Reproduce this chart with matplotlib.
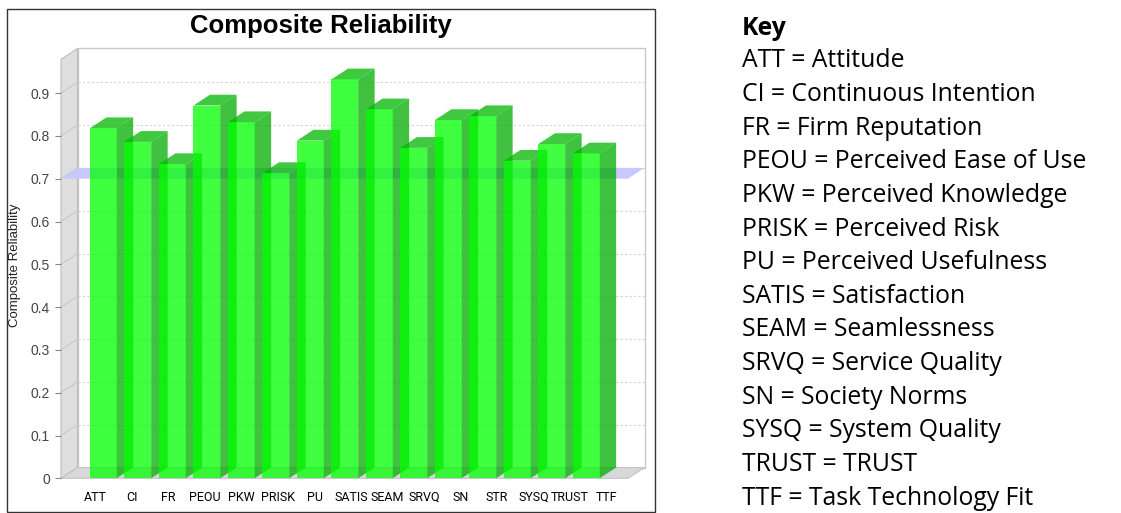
import numpy as np
import matplotlib
matplotlib.use('Agg')
import matplotlib.pyplot as plt
from matplotlib.patches import Polygon, Rectangle

codes = ['ATT', 'CI', 'FR', 'PEOU', 'PKW', 'PRISK', 'PU', 'SATIS', 'SEAM',
         'SRVQ', 'SN', 'STR', 'SYSQ', 'TRUST', 'TTF']
values = [0.818, 0.786, 0.734, 0.871, 0.832, 0.713, 0.789, 0.932, 0.862,
          0.772, 0.837, 0.846, 0.742, 0.781, 0.759]
key_codes = ['ATT', 'CI', 'FR', 'PEOU', 'PKW', 'PRISK', 'PU', 'SATIS', 'SEAM',
             'SRVQ', 'SN', 'SYSQ', 'TRUST', 'TTF']
key_names = ['Attitude', 'Continuous Intention', 'Firm Reputation',
             'Perceived Ease of Use', 'Perceived Knowledge', 'Perceived Risk',
             'Perceived Usefulness', 'Satisfaction', 'Seamlessness',
             'Service Quality', 'Society Norms', 'System Quality', 'TRUST',
             'Task Technology Fit']
threshold = 0.7
yticks = [0, 0.1, 0.2, 0.3, 0.4, 0.5, 0.6, 0.7, 0.8, 0.9]

W, H = 1121, 513
def fx(px):
    return px / W
def fy(py):
    return 1 - py / H

fig = plt.figure(figsize=(W / 100, H / 100), dpi=100)

# front plane of the 3d plot
left, right, bottom, top = 61, 628, 478.3, 59.3
ax = fig.add_axes([fx(left), fy(bottom), fx(right) - fx(left), (bottom - top) / H])
px_per_x = 34.5
px_per_y = 428.0
x0 = -(103.3 - left) / px_per_x
x1 = x0 + (right - left) / px_per_x
ymax = (bottom - top) / px_per_y
ax.set_xlim(x0, x1)
ax.set_ylim(0, ymax)
dx = 16.5 / px_per_x
dy = 10.8 / px_per_y
w = 26.7 / px_per_x

for s in ax.spines.values():
    s.set_visible(False)
ax.patch.set_visible(False)

# back wall
ax.add_patch(Rectangle((x0 + dx, dy), x1 - x0, ymax, fc='white', ec='#c8c8c8',
                       lw=1, clip_on=False, zorder=0))
for t in yticks[1:]:
    ax.plot([x0 + dx, x1 + dx], [t + dy, t + dy], color='#d4d4d4', lw=0.8,
            ls=(0, (2, 2)), clip_on=False, zorder=0.5)
# left wall and floor
ax.add_patch(Polygon([(x0, 0), (x0 + dx, dy), (x0 + dx, ymax + dy), (x0, ymax)],
                     closed=True, fc='#dedede', ec='#bdbdbd', lw=0.8,
                     clip_on=False, zorder=0.6))
ax.add_patch(Polygon([(x0, 0), (x1, 0), (x1 + dx, dy), (x0 + dx, dy)],
                     closed=True, fc='#d8d8d8', ec='#c4c4c4', lw=0.8,
                     clip_on=False, zorder=0.6))
for t in yticks[1:]:
    ax.plot([x0, x0 + dx], [t, t + dy], color='#c4c4c4', lw=0.7,
            clip_on=False, zorder=0.7)

# threshold plane
ax.add_patch(Polygon([(x0, threshold), (x1, threshold), (x1 + dx, threshold + dy),
                      (x0 + dx, threshold + dy)], closed=True, fc='#c8c8ff',
                     ec='none', clip_on=False, zorder=0.8))

# bars
front = (0, 1, 0, 0.75)
side = (0, 0.68, 0, 0.75)
topc = (0, 0.72, 0, 0.75)
for i, v in enumerate(values):
    z = 2 + i * 0.01
    xl, xr = i - w / 2, i + w / 2
    ax.add_patch(Polygon([(xr, 0), (xr + dx, dy), (xr + dx, v + dy), (xr, v)],
                         closed=True, fc=side, ec='none', clip_on=False, zorder=z))
    ax.add_patch(Polygon([(xl, v), (xr, v), (xr + dx, v + dy), (xl + dx, v + dy)],
                         closed=True, fc=topc, ec='none', clip_on=False, zorder=z))
    ax.bar(i, v, width=w, color=front, lw=0, zorder=z)

# axes ticks
ax.set_yticks(yticks)
ax.set_yticklabels([f'{t:g}' for t in yticks], fontsize=10, color='#444444',
                   family='Liberation Sans')
ax.tick_params(axis='y', length=4, width=0.8, color='#888888', pad=4)
label_step = 36.5 / px_per_x
label_off = (95.5 - 103.3) / px_per_x
ax.set_xticks(np.arange(len(codes)) * label_step + label_off)
ax.set_xticklabels(codes, fontsize=9, color='#000000', family='Roboto')
ax.tick_params(axis='x', length=0, pad=9)

fig.text(fx(15), fy(265), 'Composite Reliability', rotation=90, ha='center',
         va='center', fontsize=9.5, family='Liberation Sans', color='#222222')
fig.text(fx(321), fy(26), 'Composite Reliability', ha='center', va='center',
         fontsize=18.5, fontweight='bold', family='Liberation Sans')

# chart border
fig.add_artist(Rectangle((fx(7), fy(512)), fx(655) - fx(7), (512 - 9) / H,
                         fill=False, ec='#333333', lw=1, transform=fig.transFigure))

# key
fig.text(fx(742), fy(35), 'Key', fontsize=17.8, fontweight='bold',
         family='Open Sans', va='baseline', ha='left')
for k, (c, n) in enumerate(zip(key_codes, key_names)):
    fig.text(fx(742), fy(67.3 + 33.65 * k), f'{c} = {n}', fontsize=17.8,
             family='Open Sans', va='baseline', ha='left')

fig.savefig('out.png', dpi=100)
